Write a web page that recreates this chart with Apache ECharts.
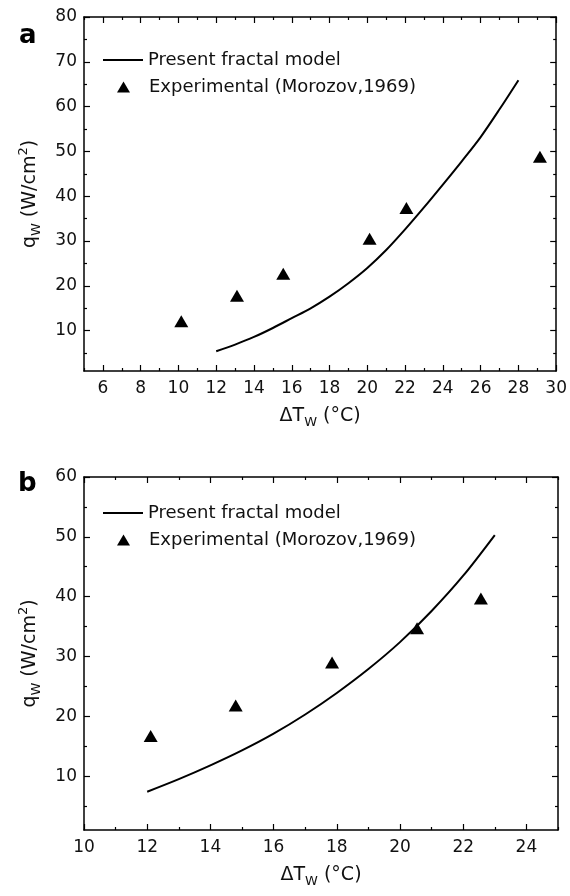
<!DOCTYPE html>
<html><head><meta charset="utf-8">
<script src="https://cdn.jsdelivr.net/npm/echarts@6/dist/echarts.min.js"></script>
<style>html,body{margin:0;padding:0;background:#fff}#c{width:570px;height:896px}</style>
</head><body><div id="c"></div>
<script>
// ---- Panel a data ----
const aModelT = [12, 13, 14, 15, 16, 17, 18, 19, 20, 21, 22, 23, 24, 25, 26, 27, 28];
const aModelQ = [5.4, 6.9, 8.6, 10.6, 12.8, 15.0, 17.6, 20.6, 24.0, 28.0, 32.6, 37.5, 42.6, 47.8, 53.2, 59.4, 65.9];
const aExpT = [10.15, 13.1, 15.55, 20.12, 22.07, 29.14];
const aExpQ = [12.1, 17.8, 22.7, 30.5, 37.4, 48.8];
const aXTicks = [6, 8, 10, 12, 14, 16, 18, 20, 22, 24, 26, 28, 30];
const aXMinor = [5, 7, 9, 11, 13, 15, 17, 19, 21, 23, 25, 27, 29];
const aYTicks = [10, 20, 30, 40, 50, 60, 70, 80];
const aYMinor = [5, 15, 25, 35, 45, 55, 65, 75];
// ---- Panel b data ----
const bModelT = [12, 13, 14, 15, 16, 17, 18, 19, 20, 21, 22, 23];
const bModelQ = [7.4, 9.5, 11.8, 14.3, 17.1, 20.3, 23.9, 27.9, 32.4, 37.6, 43.5, 50.3];
const bExpT = [12.11, 14.80, 17.85, 20.54, 22.56];
const bExpQ = [16.7, 21.8, 29.0, 34.7, 39.7];
const bXTicks = [10, 12, 14, 16, 18, 20, 22, 24];
const bXMinor = [11, 13, 15, 17, 19, 21, 23, 25];
const bYTicks = [10, 20, 30, 40, 50, 60];
const bYMinor = [5, 15, 25, 35, 45, 55];

const SERIES_MODEL = 'Present fractal model';
const SERIES_EXP = 'Experimental (Morozov,1969)';
const FONT = 'DejaVu Sans';
const INK = '#111';

const zip = (a, b) => a.map((v, i) => [v, b[i]]);

const richName = {
  n: { fontFamily: FONT, fontSize: 19, color: INK, lineHeight: 26 },
  s: { fontFamily: FONT, fontSize: 13, color: INK, lineHeight: 12, verticalAlign: 'bottom' },
  p: { fontFamily: FONT, fontSize: 13, color: INK, lineHeight: 12, verticalAlign: 'top' }
};
const xName = '{n|ΔT}{s|W}{n| (°C)}';
const yName = '{n|q}{s|W}{n| (W/cm}{p|2}{n|)}';

const lineSt = { color: '#000', width: 1.5 };
const tickSt = { color: '#000', width: 1.2 };

function axisSet(dim, g, min, max, major, minor, name) {
  const near = dim === 'x' ? 'bottom' : 'left';
  const far = dim === 'x' ? 'top' : 'right';
  const base = { type: 'value', gridIndex: g, min: min, max: max, splitLine: { show: false } };
  const main = Object.assign({}, base, {
    position: near,
    name: name, nameLocation: 'middle',
    nameGap: dim === 'x' ? 32 : 41,
    nameRotate: dim === 'x' ? 0 : 90,
    nameTextStyle: { rich: richName },
    axisLine: { show: true, onZero: false, lineStyle: lineSt },
    axisTick: { show: true, inside: true, length: 6, customValues: major, lineStyle: tickSt },
    axisLabel: { show: true, customValues: major, margin: dim === 'x' ? 9 : 7,
      fontFamily: FONT, fontSize: 17, color: INK }
  });
  const mainMinor = Object.assign({}, base, {
    position: near,
    axisLine: { show: false },
    axisTick: { show: true, inside: true, length: 3, customValues: minor, lineStyle: tickSt },
    axisLabel: { show: false }
  });
  const mirror = Object.assign({}, base, {
    position: far,
    axisLine: { show: true, onZero: false, lineStyle: lineSt },
    axisTick: { show: true, inside: true, length: 6, customValues: major, lineStyle: tickSt },
    axisLabel: { show: false }
  });
  const mirrorMinor = Object.assign({}, base, {
    position: far,
    axisLine: { show: false },
    axisTick: { show: true, inside: true, length: 3, customValues: minor, lineStyle: tickSt },
    axisLabel: { show: false }
  });
  return [main, mainMinor, mirror, mirrorMinor];
}

const xAxes = axisSet('x', 0, 5, 30, aXTicks, aXMinor, xName)
  .concat(axisSet('x', 1, 10, 25, bXTicks, bXMinor, xName));
const yAxes = axisSet('y', 0, 1, 80, aYTicks, aYMinor, yName)
  .concat(axisSet('y', 1, 1, 60, bYTicks, bYMinor, yName));

function seriesFor(ax, modelT, modelQ, expT, expQ) {
  return [
    { type: 'line', name: SERIES_MODEL, xAxisIndex: ax, yAxisIndex: ax,
      data: zip(modelT, modelQ), symbol: 'none', smooth: 0.3, silent: true,
      lineStyle: { color: '#000', width: 2 }, itemStyle: { color: '#000' } },
    { type: 'scatter', name: SERIES_EXP, xAxisIndex: ax, yAxisIndex: ax,
      data: zip(expT, expQ), symbol: 'triangle', symbolSize: [14, 12], silent: true,
      itemStyle: { color: '#000', opacity: 1 } }
  ];
}

const legText = { fontFamily: FONT, fontSize: 18, color: INK, lineHeight: 20 };
function legendsAt(lineY) {
  return [
    { left: 103, top: lineY - 10, padding: 0, orient: 'vertical', selectedMode: false,
      itemWidth: 40, itemHeight: 2,
      textStyle: legText,
      data: [{ name: SERIES_MODEL, icon: 'rect', itemStyle: { color: '#000', borderWidth: 0 } }] },
    { left: 117, top: lineY + 17, padding: 0, orient: 'vertical', selectedMode: false,
      itemWidth: 13, itemHeight: 11,
      textStyle: Object.assign({ padding: [0, 0, 0, 14] }, legText),
      data: [{ name: SERIES_EXP, icon: 'triangle', itemStyle: { color: '#000', opacity: 1 } }] }
  ];
}

const option = {
  animation: false,
  backgroundColor: '#fff',
  grid: [
    { left: 84, top: 17, width: 474, height: 354 },
    { left: 84, top: 477, width: 474, height: 353 }
  ],
  xAxis: xAxes,
  yAxis: yAxes,
  legend: legendsAt(60).concat(legendsAt(513)),
  series: seriesFor(0, aModelT, aModelQ, aExpT, aExpQ)
    .concat(seriesFor(4, bModelT, bModelQ, bExpT, bExpQ)),
  graphic: [
    { type: 'text', left: 19, top: 23, style: { text: 'a', font: 'bold 26px "DejaVu Sans"', fill: '#000' } },
    { type: 'text', left: 18, top: 471, style: { text: 'b', font: 'bold 26px "DejaVu Sans"', fill: '#000' } }
  ]
};

const chart = echarts.init(document.getElementById('c'), null, { renderer: 'canvas' });
chart.setOption(option);
</script>
</body></html>
